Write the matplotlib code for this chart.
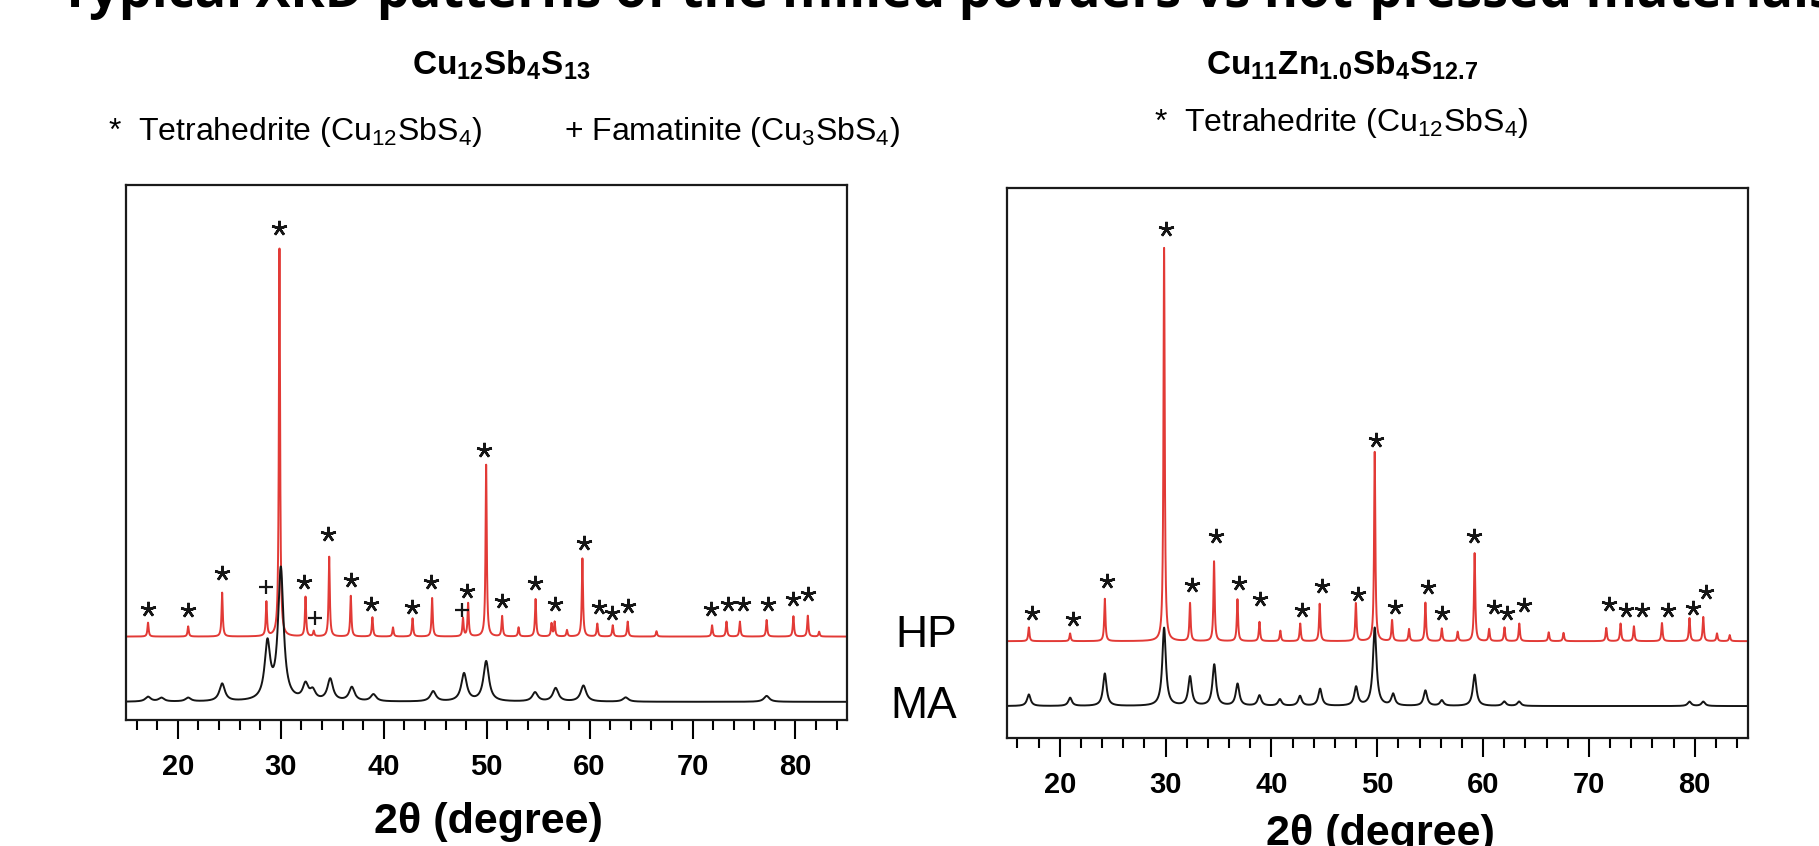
import numpy as np
import matplotlib.pyplot as plt
from matplotlib.ticker import FixedLocator, MultipleLocator

plt.rcParams['font.family'] = ['Liberation Sans', 'DejaVu Sans']
plt.rcParams['mathtext.fontset'] = 'custom'
plt.rcParams['mathtext.rm'] = 'Liberation Sans'
plt.rcParams['mathtext.it'] = 'Liberation Sans:italic'
plt.rcParams['mathtext.bf'] = 'Liberation Sans:bold'

# scan range and ticks (2 theta, degree)
TT_MIN, TT_MAX = 15, 85
MAJOR_TICKS = [20, 30, 40, 50, 60, 70, 80]

# --- Cu12Sb4S13 ---
# hot pressed (HP): baseline, peak positions and peak tops (arb. units, 0-100 panel height)
CU12_HP_BASE = 15.6
CU12_HP_POS = [17.1, 21.0, 24.3, 28.6, 29.87, 32.4, 33.2, 34.7, 36.8, 38.9, 40.9, 42.8,
               44.7, 47.7, 48.2, 49.95, 51.5, 53.1, 54.75, 56.3, 56.6, 57.8, 59.3, 60.75,
               62.25, 63.7, 66.5, 71.9, 73.3, 74.6, 77.2, 79.8, 81.2, 82.3]
CU12_HP_TOP = [18.2, 17.5, 23.8, 22.0, 88.1, 23.0, 16.6, 30.5, 23.2, 19.2, 17.3, 19.0,
               22.8, 19.0, 21.8, 47.7, 19.4, 17.3, 22.6, 18.0, 18.3, 16.8, 30.2, 18.0,
               17.7, 18.4, 16.6, 17.7, 18.4, 18.4, 18.7, 19.4, 19.5, 16.5]
# milled (MA)
CU12_MA_BASE = 3.4
CU12_MA_POS = [17.1, 18.4, 21.0, 24.3, 28.7, 30.0, 32.4, 33.1, 34.8, 36.9, 39.0, 44.8,
               47.8, 49.95, 54.7, 56.7, 59.4, 63.5, 77.2]
CU12_MA_TOP = [4.3, 4.1, 4.1, 6.7, 13.8, 28.0, 6.3, 5.1, 7.5, 6.0, 4.7, 5.3,
               8.6, 10.9, 5.1, 5.9, 6.4, 4.2, 4.5]
# phase marks
CU12_STAR_X = [17.12, 20.99, 24.26, 29.87, 32.25, 34.63, 36.81, 38.79, 42.71, 44.59, 48.11,
               49.75, 51.53, 54.66, 56.64, 59.41, 60.90, 62.14, 63.73, 71.76, 73.45, 74.93,
               77.31, 79.74, 81.18]
CU12_STAR_Y = [20.8, 20.5, 27.5, 91.9, 25.8, 34.7, 26.2, 21.6, 21.2, 25.8, 24.2,
               50.4, 22.2, 25.6, 21.6, 33.0, 21.2, 20.0, 21.4, 20.7, 21.6, 21.6,
               21.7, 22.6, 23.6]
CU12_PLUS_X = [28.53, 33.34, 47.62]
CU12_PLUS_Y = [24.8, 19.0, 20.5]

# --- Cu11Zn1.0Sb4S12.7 ---
ZN_HP_BASE = 17.6
ZN_HP_POS = [17.08, 20.98, 24.26, 29.86, 32.31, 34.58, 36.79, 38.87, 40.84, 42.72, 44.56,
             47.98, 49.76, 51.4, 53.0, 54.55, 56.1, 57.6, 59.2, 60.57, 62.02, 63.42, 66.2,
             67.6, 71.64, 72.99, 74.25, 76.9, 79.5, 80.8, 82.1, 83.3]
ZN_HP_TOP = [20.1, 19.0, 25.3, 89.1, 24.5, 32.1, 25.2, 21.1, 19.5, 20.8, 24.4,
             24.5, 52.0, 21.4, 19.8, 24.6, 19.9, 19.3, 33.6, 19.8, 20.1, 20.8, 19.2,
             19.1, 20.0, 20.8, 20.3, 20.9, 21.8, 22.0, 19.0, 18.7]
ZN_MA_BASE = 5.8
ZN_MA_POS = [17.08, 20.98, 24.26, 29.86, 32.31, 34.6, 36.8, 38.87, 40.8, 42.7, 44.6,
             48.0, 49.76, 51.5, 54.55, 56.1, 59.2, 62.0, 63.4, 79.5, 80.8]
ZN_MA_TOP = [7.9, 7.3, 11.7, 20.0, 11.1, 13.3, 9.8, 7.7, 7.0, 7.6, 8.9,
             9.2, 20.0, 7.9, 8.6, 6.8, 11.5, 6.6, 6.6, 6.6, 6.6]
ZN_STAR_X = [17.41, 21.27, 24.45, 30.04, 32.45, 34.77, 36.94, 38.96, 42.87, 44.75, 48.22,
             49.90, 51.64, 54.78, 56.08, 59.12, 61.05, 62.25, 63.84, 71.89, 73.53, 75.02,
             77.44, 79.85, 81.05]
ZN_STAR_Y = [22.7, 21.7, 28.6, 92.6, 27.9, 36.7, 28.1, 25.3, 23.2, 27.7, 26.1,
             54.1, 23.9, 27.4, 22.7, 36.8, 23.9, 22.7, 24.2, 24.3, 23.2, 23.2,
             23.2, 23.7, 26.6]

RED = '#e23a36'
BLACK = '#151515'


def pattern(tt, base, pos, top, hw):
    # sum of lorentzian peaks on a flat background
    y = np.full_like(tt, base)
    for p, t in zip(pos, top):
        y += (t - base) * hw ** 2 / ((tt - p) ** 2 + hw ** 2)
    return y


def style_axes(ax):
    ax.set_xlim(TT_MIN, TT_MAX)
    ax.set_ylim(0, 100)
    ax.set_yticks([])
    ax.xaxis.set_major_locator(FixedLocator(MAJOR_TICKS))
    ax.xaxis.set_minor_locator(MultipleLocator(2))
    ax.tick_params(axis='x', which='major', direction='out', length=14, width=1.5,
                   pad=10, labelsize=21)
    ax.tick_params(axis='x', which='minor', direction='out', length=7.5, width=1.5)
    for lab in ax.get_xticklabels():
        lab.set_fontweight('bold')
    for sp in ax.spines.values():
        sp.set_linewidth(1.6)
        sp.set_color('#1a1a1a')


fig = plt.figure(figsize=(18.19, 8.46), dpi=100)
ax1 = fig.add_axes([0.0695, 0.1489, 0.3961, 0.6324])
ax2 = fig.add_axes([0.5535, 0.1277, 0.4073, 0.6501])

tt = np.linspace(TT_MIN, TT_MAX, 7001)

ax1.plot(tt, pattern(tt, CU12_HP_BASE, CU12_HP_POS, CU12_HP_TOP, 0.07), color=RED, lw=1.4)
ax1.plot(tt, pattern(tt, CU12_MA_BASE, CU12_MA_POS, CU12_MA_TOP, 0.32), color=BLACK, lw=1.4)
ax1.plot(CU12_STAR_X, CU12_STAR_Y, ls='none', marker=(5, 2, 0), ms=11, mew=1.8, color=BLACK)
ax1.plot(CU12_PLUS_X, CU12_PLUS_Y, ls='none', marker='+', ms=10, mew=1.6, color=BLACK)
style_axes(ax1)

ax2.plot(tt, pattern(tt, ZN_HP_BASE, ZN_HP_POS, ZN_HP_TOP, 0.07), color=RED, lw=1.4)
ax2.plot(tt, pattern(tt, ZN_MA_BASE, ZN_MA_POS, ZN_MA_TOP, 0.2), color=BLACK, lw=1.4)
ax2.plot(ZN_STAR_X, ZN_STAR_Y, ls='none', marker=(5, 2, 0), ms=11, mew=1.8, color=BLACK)
style_axes(ax2)

# titles and labels
fig.text(0.0330, 0.9920, 'Typical XRD patterns of the milled powders vs hot-pressed materials',
         family='Open Sans', fontweight='bold', fontsize=37.5, ha='left', va='baseline')
fig.text(0.2754, 0.9113, r'Cu$_\mathbf{12}$Sb$_\mathbf{4}$S$_\mathbf{13}$',
         fontweight='bold', fontsize=24, ha='center', va='baseline')
fig.text(0.7378, 0.9113, r'Cu$_\mathbf{11}$Zn$_\mathbf{1.0}$Sb$_\mathbf{4}$S$_\mathbf{12.7}$',
         fontweight='bold', fontsize=24, ha='center', va='baseline')
fig.text(0.0594, 0.8345, r'*  Tetrahedrite (Cu$_{12}$SbS$_4$)', fontsize=23,
         ha='left', va='baseline')
fig.text(0.3100, 0.8345, r'+ Famatinite (Cu$_3$SbS$_4$)', fontsize=23,
         ha='left', va='baseline')
fig.text(0.6344, 0.8452, r'*  Tetrahedrite (Cu$_{12}$SbS$_4$)', fontsize=23,
         ha='left', va='baseline')

fig.text(0.5261, 0.2352, 'HP', fontsize=32, ha='right', va='baseline')
fig.text(0.5261, 0.1513, 'MA', fontsize=32, ha='right', va='baseline')

fig.text(0.2683, 0.0154, '2θ (degree)', fontsize=31, fontweight='bold',
         ha='center', va='baseline')
fig.text(0.7587, 0.0010, '2θ (degree)', fontsize=31, fontweight='bold',
         ha='center', va='baseline')

fig.savefig('out.png', dpi=100)
